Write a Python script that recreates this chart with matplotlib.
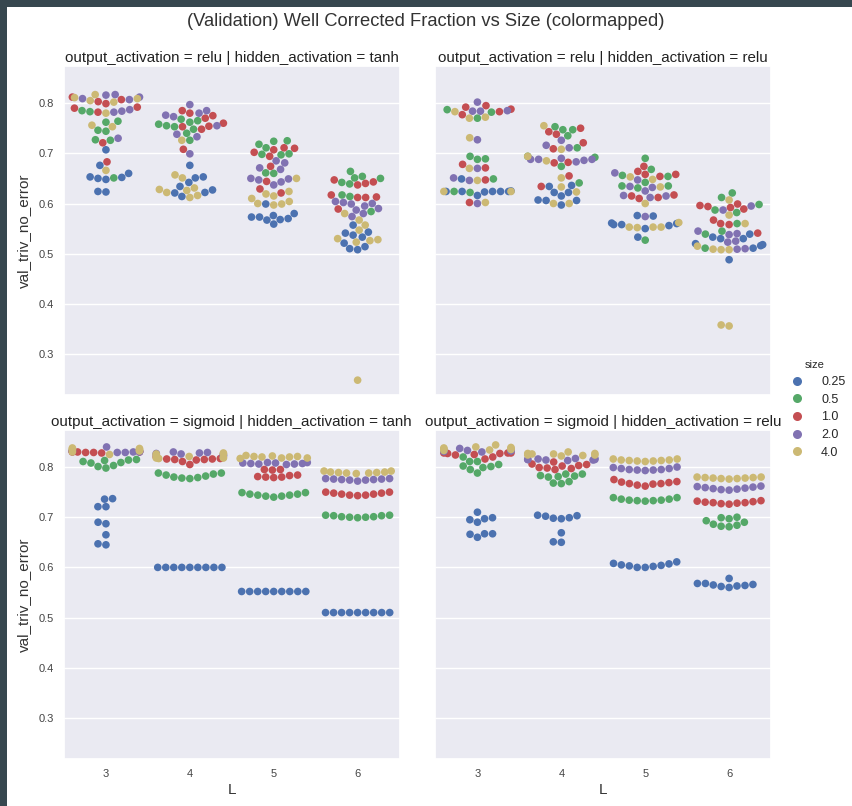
import matplotlib
matplotlib.use("Agg")
import matplotlib.pyplot as plt
from matplotlib.patches import Rectangle
from matplotlib.lines import Line2D
import pandas as pd
import seaborn as sns

L_values = [3, 4, 5, 6]
sizes = ["0.25", "0.5", "1.0", "2.0", "4.0"]
colors = ["#4C72B0", "#55A868", "#C44E52", "#8172B2", "#CCB974"]

# each list: one inner list per L (3, 4, 5, 6), 9 runs each
# output_activation = relu | hidden_activation = tanh
relu_tanh_025 = [[0.707, 0.676, 0.660, 0.652, 0.650, 0.648, 0.653, 0.623, 0.624],
                 [0.676, 0.651, 0.653, 0.642, 0.634, 0.627, 0.614, 0.621, 0.622],
                 [0.599, 0.580, 0.576, 0.573, 0.567, 0.559, 0.570, 0.568, 0.573],
                 [0.557, 0.541, 0.543, 0.533, 0.537, 0.521, 0.510, 0.508, 0.514]]
relu_tanh_05 = [[0.785, 0.783, 0.764, 0.762, 0.746, 0.744, 0.727, 0.726, 0.651],
                [0.768, 0.762, 0.758, 0.755, 0.753, 0.748, 0.740, 0.726, 0.765],
                [0.725, 0.724, 0.711, 0.718, 0.698, 0.699, 0.697, 0.660, 0.661],
                [0.664, 0.651, 0.639, 0.654, 0.642, 0.650, 0.617, 0.614, 0.584]]
relu_tanh_1 = [[0.812, 0.807, 0.803, 0.799, 0.792, 0.790, 0.782, 0.721, 0.683],
               [0.785, 0.780, 0.775, 0.770, 0.753, 0.760, 0.754, 0.748, 0.708],
               [0.707, 0.702, 0.711, 0.710, 0.694, 0.674, 0.644, 0.629, 0.621],
               [0.643, 0.647, 0.637, 0.640, 0.612, 0.613, 0.617, 0.612, 0.589]]
relu_tanh_2 = [[0.817, 0.816, 0.812, 0.809, 0.807, 0.787, 0.784, 0.782, 0.730],
               [0.797, 0.785, 0.780, 0.773, 0.776, 0.755, 0.733, 0.738, 0.699],
               [0.681, 0.671, 0.668, 0.650, 0.649, 0.643, 0.637, 0.647, 0.685],
               [0.602, 0.599, 0.590, 0.600, 0.604, 0.587, 0.580, 0.574, 0.595]]
relu_tanh_4 = [[0.817, 0.811, 0.809, 0.805, 0.802, 0.780, 0.756, 0.753, 0.666],
               [0.726, 0.657, 0.651, 0.628, 0.622, 0.612, 0.626, 0.631, 0.616],
               [0.650, 0.619, 0.624, 0.615, 0.610, 0.604, 0.597, 0.600, 0.599],
               [0.580, 0.567, 0.557, 0.547, 0.530, 0.523, 0.526, 0.528, 0.248]]

# output_activation = relu | hidden_activation = relu
relu_relu_025 = [[0.649, 0.624, 0.624, 0.624, 0.616, 0.623, 0.624, 0.625, 0.624],
                 [0.634, 0.636, 0.622, 0.615, 0.622, 0.606, 0.597, 0.606, 0.607],
                 [0.575, 0.576, 0.561, 0.558, 0.550, 0.558, 0.560, 0.533, 0.556],
                 [0.539, 0.530, 0.530, 0.518, 0.511, 0.516, 0.520, 0.488, 0.533]]
relu_relu_05 = [[0.787, 0.770, 0.782, 0.689, 0.694, 0.688, 0.649, 0.622, 0.624],
                [0.753, 0.747, 0.747, 0.735, 0.711, 0.694, 0.692, 0.674, 0.641],
                [0.690, 0.668, 0.656, 0.642, 0.654, 0.635, 0.631, 0.635, 0.527],
                [0.621, 0.612, 0.587, 0.582, 0.560, 0.545, 0.539, 0.511, 0.598]]
relu_relu_1 = [[0.795, 0.792, 0.783, 0.777, 0.678, 0.671, 0.647, 0.602, 0.788],
               [0.750, 0.743, 0.738, 0.721, 0.709, 0.682, 0.681, 0.655, 0.634],
               [0.674, 0.664, 0.658, 0.654, 0.658, 0.617, 0.610, 0.615, 0.612],
               [0.594, 0.599, 0.589, 0.592, 0.567, 0.558, 0.560, 0.541, 0.596]]
relu_relu_2 = [[0.802, 0.784, 0.784, 0.785, 0.727, 0.670, 0.651, 0.646, 0.600],
               [0.726, 0.711, 0.716, 0.688, 0.688, 0.686, 0.683, 0.688, 0.690],
               [0.661, 0.647, 0.634, 0.632, 0.625, 0.615, 0.616, 0.612, 0.574],
               [0.587, 0.595, 0.540, 0.538, 0.545, 0.523, 0.525, 0.510, 0.509]]
relu_relu_4 = [[0.770, 0.772, 0.783, 0.731, 0.670, 0.646, 0.624, 0.624, 0.602],
               [0.755, 0.708, 0.694, 0.685, 0.651, 0.633, 0.623, 0.600, 0.600],
               [0.653, 0.633, 0.600, 0.553, 0.553, 0.552, 0.553, 0.562, 0.648],
               [0.607, 0.577, 0.560, 0.515, 0.508, 0.508, 0.509, 0.358, 0.356]]

# output_activation = sigmoid | hidden_activation = tanh
sigm_tanh_025 = [[0.737, 0.736, 0.721, 0.721, 0.687, 0.690, 0.665, 0.647, 0.645],
                 [0.600, 0.600, 0.600, 0.600, 0.600, 0.600, 0.600, 0.600, 0.600],
                 [0.552, 0.552, 0.552, 0.552, 0.552, 0.552, 0.552, 0.552, 0.552],
                 [0.510, 0.510, 0.510, 0.510, 0.510, 0.510, 0.510, 0.510, 0.510]]
sigm_tanh_05 = [[0.815, 0.811, 0.814, 0.803, 0.798, 0.801, 0.808, 0.813, 0.809],
                [0.788, 0.784, 0.780, 0.778, 0.777, 0.779, 0.782, 0.786, 0.788],
                [0.749, 0.746, 0.744, 0.742, 0.740, 0.742, 0.744, 0.746, 0.749],
                [0.704, 0.703, 0.701, 0.700, 0.699, 0.700, 0.701, 0.703, 0.704]]
sigm_tanh_1 = [[0.830, 0.829, 0.831, 0.830, 0.829, 0.831, 0.830, 0.828, 0.832],
               [0.815, 0.814, 0.820, 0.805, 0.811, 0.815, 0.816, 0.817, 0.816],
               [0.795, 0.794, 0.795, 0.783, 0.780, 0.779, 0.780, 0.781, 0.784],
               [0.750, 0.748, 0.746, 0.744, 0.743, 0.744, 0.746, 0.748, 0.750]]
sigm_tanh_2 = [[0.830, 0.831, 0.840, 0.829, 0.830, 0.832, 0.831, 0.829, 0.833],
               [0.822, 0.828, 0.825, 0.830, 0.827, 0.824, 0.829, 0.826, 0.823],
               [0.809, 0.808, 0.807, 0.806, 0.805, 0.806, 0.807, 0.808, 0.809],
               [0.777, 0.776, 0.775, 0.774, 0.772, 0.774, 0.775, 0.776, 0.777]]
sigm_tanh_4 = [[0.835, 0.838, 0.837, 0.825, 0.832, 0.836, 0.834, 0.830, 0.833],
               [0.818, 0.817, 0.819, 0.826, 0.828, 0.826, 0.821, 0.818, 0.823],
               [0.823, 0.821, 0.820, 0.818, 0.817, 0.818, 0.820, 0.821, 0.822],
               [0.792, 0.790, 0.789, 0.788, 0.787, 0.788, 0.789, 0.790, 0.792]]

# output_activation = sigmoid | hidden_activation = relu
sigm_relu_025 = [[0.710, 0.695, 0.690, 0.697, 0.699, 0.667, 0.660, 0.667, 0.666],
                 [0.702, 0.699, 0.697, 0.698, 0.703, 0.704, 0.669, 0.650, 0.651],
                 [0.611, 0.608, 0.607, 0.605, 0.603, 0.602, 0.600, 0.600, 0.604],
                 [0.578, 0.568, 0.565, 0.563, 0.560, 0.562, 0.564, 0.566, 0.568]]
sigm_relu_05 = [[0.820, 0.811, 0.811, 0.805, 0.801, 0.799, 0.802, 0.788, 0.795],
                [0.786, 0.782, 0.780, 0.781, 0.783, 0.786, 0.771, 0.768, 0.767],
                [0.739, 0.736, 0.734, 0.733, 0.732, 0.733, 0.734, 0.736, 0.739],
                [0.700, 0.699, 0.697, 0.693, 0.690, 0.686, 0.684, 0.682, 0.681]]
sigm_relu_1 = [[0.828, 0.827, 0.825, 0.820, 0.816, 0.824, 0.827, 0.828, 0.828],
               [0.806, 0.802, 0.795, 0.798, 0.797, 0.799, 0.805, 0.810, 0.803],
               [0.775, 0.769, 0.767, 0.766, 0.762, 0.764, 0.767, 0.770, 0.771],
               [0.733, 0.731, 0.729, 0.728, 0.726, 0.727, 0.729, 0.730, 0.732]]
sigm_relu_2 = [[0.837, 0.834, 0.832, 0.832, 0.830, 0.833, 0.831, 0.834, 0.833],
               [0.817, 0.815, 0.813, 0.814, 0.814, 0.815, 0.817, 0.816, 0.815],
               [0.800, 0.797, 0.795, 0.794, 0.793, 0.794, 0.795, 0.797, 0.799],
               [0.762, 0.760, 0.758, 0.756, 0.754, 0.755, 0.757, 0.759, 0.761]]
sigm_relu_4 = [[0.844, 0.837, 0.838, 0.835, 0.840, 0.836, 0.833, 0.834, 0.839],
               [0.822, 0.827, 0.826, 0.826, 0.827, 0.830, 0.824, 0.824, 0.823],
               [0.816, 0.814, 0.813, 0.812, 0.811, 0.812, 0.813, 0.814, 0.816],
               [0.780, 0.779, 0.778, 0.777, 0.776, 0.777, 0.778, 0.779, 0.780]]

panels = [
    ("relu", "tanh", [relu_tanh_025, relu_tanh_05, relu_tanh_1, relu_tanh_2, relu_tanh_4]),
    ("relu", "relu", [relu_relu_025, relu_relu_05, relu_relu_1, relu_relu_2, relu_relu_4]),
    ("sigmoid", "tanh", [sigm_tanh_025, sigm_tanh_05, sigm_tanh_1, sigm_tanh_2, sigm_tanh_4]),
    ("sigmoid", "relu", [sigm_relu_025, sigm_relu_05, sigm_relu_1, sigm_relu_2, sigm_relu_4]),
]

sns.set_theme(style="darkgrid")
plt.rcParams["font.family"] = ["Liberation Sans", "DejaVu Sans"]

fig, axes = plt.subplots(2, 2, figsize=(8.52, 8.06), dpi=100, sharex=True, sharey=True)
fig.subplots_adjust(left=0.0751, right=0.905, top=0.918, bottom=0.0583,
                    wspace=0.107, hspace=0.106)

for ax, (out_act, hid_act, series) in zip(axes.flat, panels):
    rows = []
    for s, per_L in zip(sizes, series):
        for L, vals in zip(L_values, per_L):
            for v in vals:
                rows.append({"L": L, "val_triv_no_error": v, "size": s})
    df = pd.DataFrame(rows)
    sns.swarmplot(data=df, x="L", y="val_triv_no_error", hue="size",
                  order=L_values, hue_order=sizes, palette=colors,
                  size=5.5, ax=ax, legend=False)
    ax.set_title(f"output_activation = {out_act} | hidden_activation = {hid_act}",
                 fontsize=10.9, pad=3, color="#222222")
    ax.tick_params(axis="both", length=0, pad=7, labelsize=8, labelcolor="#444444")
    ax.set_xlabel("")
    ax.set_ylabel("")

for ax in axes[1]:
    ax.set_xlabel("L", fontsize=11, color="#333333", labelpad=3)
for ax in axes[:, 0]:
    ax.set_ylabel("val_triv_no_error", fontsize=11, color="#333333", labelpad=6)

handles = [Line2D([], [], marker="o", linestyle="", markersize=6.5,
                  markerfacecolor=c, markeredgewidth=0) for c in colors]
fig.legend(handles, sizes, title="size", loc="center left",
           bbox_to_anchor=(0.908, 0.492), frameon=False, fontsize=9,
           title_fontsize=8, handletextpad=0.9, labelspacing=0.45)

fig.suptitle("(Validation) Well Corrected Fraction vs Size (colormapped)",
             fontsize=13.2, y=0.973, va="center", color="#333333")

# dark frame strips on the left and top edge
fig.patches.append(Rectangle((0, 0), 7 / 852, 1, transform=fig.transFigure,
                             facecolor="#37474f", edgecolor="none", zorder=10))
fig.patches.append(Rectangle((0, 1 - 7 / 806), 1, 7 / 806, transform=fig.transFigure,
                             facecolor="#37474f", edgecolor="none", zorder=10))

fig.savefig("out.png", dpi=100)
